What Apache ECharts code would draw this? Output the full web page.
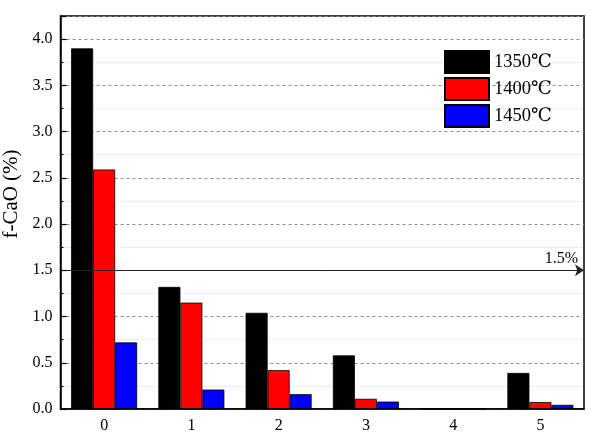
<!DOCTYPE html>
<html>
<head>
<meta charset="utf-8">
<script src="https://cdn.jsdelivr.net/npm/echarts@6/dist/echarts.min.js"></script>
<style>
  html, body { margin: 0; padding: 0; background: #fff; }
  #main { width: 596px; height: 437px; }
</style>
</head>
<body>
<div id="main"></div>
<script>
  var categories = ['0', '1', '2', '3', '4', '5'];
  var seriesNames = ['1350℃', '1400℃', '1450℃'];
  var values1350 = [3.90, 1.32, 1.04, 0.58, 0, 0.39];
  var values1400 = [2.59, 1.15, 0.42, 0.11, 0, 0.075];
  var values1450 = [0.72, 0.21, 0.16, 0.08, 0, 0.045];
  var refLine = 1.5;

  var serif = 'Liberation Serif, DejaVu Serif, serif';
  var chart = echarts.init(document.getElementById('main'));

  function bar(name, data, color) {
    return {
      name: name,
      type: 'bar',
      data: data,
      barWidth: 22,
      barGap: '0%',
      itemStyle: { color: color, borderColor: '#000', borderWidth: 0.8 }
    };
  }

  var option = {
    animation: false,
    grid: {
      left: 60.5, right: 12, top: 16, bottom: 28,
      outerBoundsMode: 'none',
      containLabel: false,
      show: true, borderColor: '#000', borderWidth: 1.5
    },
    legend: {
      data: seriesNames,
      orient: 'vertical',
      left: 439, top: 45,
      itemWidth: 44, itemHeight: 22, itemGap: 3,
      icon: 'rect',
      textStyle: { fontFamily: serif, fontSize: 18.5, color: '#000' }
    },
    xAxis: [
      {
        type: 'category',
        data: categories,
        z: 10,
        axisLine: { lineStyle: { color: '#000', width: 1.5 } },
        axisTick: { inside: true, alignWithLabel: true, length: 6, lineStyle: { color: '#000', width: 1.2 } },
        axisLabel: { fontFamily: serif, fontSize: 16, color: '#000', margin: 9 }
      },
      {
        type: 'category',
        data: categories,
        position: 'bottom',
        z: 10,
        axisLine: { show: false },
        axisTick: { inside: true, length: 3, lineStyle: { color: '#000', width: 1.2 } },
        axisLabel: { show: false }
      }
    ],
    yAxis: [
      {
        type: 'value',
        min: 0, max: 4.25, interval: 0.5,
        axisLine: { show: false },
        axisTick: { show: false },
        axisLabel: { show: false },
        splitLine: { show: true, lineStyle: { color: '#8c8c8c', type: [3, 3], width: 1 } },
        minorTick: { show: false, splitNumber: 2 },
        minorSplitLine: { show: true, lineStyle: { color: '#dcdcdc', type: [2, 2], width: 1 } }
      },
      {
        type: 'value',
        min: 0, max: 4.25, interval: 0.5,
        position: 'left',
        z: 10,
        name: 'f-CaO (%)',
        nameLocation: 'middle',
        nameGap: 39,
        nameTextStyle: { fontFamily: serif, fontSize: 21, color: '#000', padding: [0, 0, 0, 37] },
        axisLine: { show: true, lineStyle: { color: '#000', width: 1.5 } },
        axisTick: { show: true, inside: true, length: 6, lineStyle: { color: '#000', width: 1.2 } },
        minorTick: { show: true, splitNumber: 2, length: 3, lineStyle: { color: '#000', width: 1.2 } },
        splitLine: { show: false },
        axisLabel: {
          fontFamily: serif, fontSize: 16, color: '#000', margin: 8,
          showMaxLabel: false,
          formatter: function (v) { return v.toFixed(1); }
        }
      }
    ],
    series: [
      bar(seriesNames[0], values1350, '#000000'),
      bar(seriesNames[1], values1400, '#ff0000'),
      bar(seriesNames[2], values1450, '#0000ff'),
      {
        name: 'ref',
        type: 'line',
        data: [],
        z: 5,
        markLine: {
          silent: true,
          symbol: ['none', 'arrow'],
          symbolSize: 9,
          lineStyle: { color: '#222', width: 1, type: 'solid' },
          label: {
            show: true,
            position: 'insideEndTop',
            formatter: '1.5%',
            fontFamily: serif, fontSize: 16, color: '#000',
            distance: [6, 3]
          },
          data: [{ yAxis: refLine }]
        }
      }
    ]
  };

  chart.setOption(option);
</script>
</body>
</html>
